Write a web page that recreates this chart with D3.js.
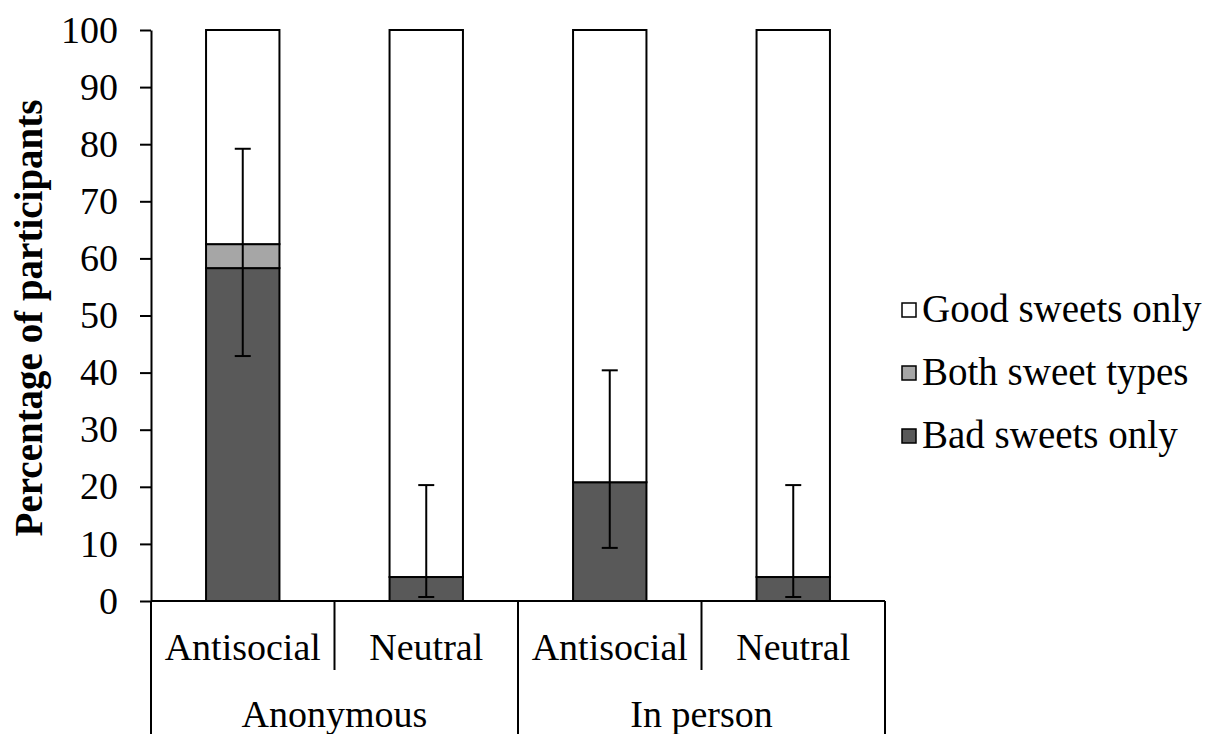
<!DOCTYPE html>
<html><head><meta charset="utf-8"><script src="https://cdn.jsdelivr.net/npm/d3@7"></script></head>
<body style="margin:0">
<svg id="s" width="1208" height="734" font-family="Liberation Serif, Tinos, Times New Roman, serif"></svg>
<script>
// ---- data ----
const conditions = ["Antisocial", "Neutral", "Antisocial", "Neutral"];
const groups = ["Anonymous", "In person"];
const badOnly = [58.3, 4.2, 20.8, 4.2];
const bothTypes = [4.2, 0, 0, 0];
const goodOnly = [37.5, 95.8, 79.2, 95.8];
const errLow = [42.9, 0.7, 9.3, 0.7];
const errHigh = [79.2, 20.3, 40.4, 20.3];
const yTicks = [0, 10, 20, 30, 40, 50, 60, 70, 80, 90, 100];
const seriesNames = ["Bad sweets only", "Both sweet types", "Good sweets only"];
const legendOrder = ["Good sweets only", "Both sweet types", "Bad sweets only"];
const seriesColors = { "Bad sweets only": "#595959", "Both sweet types": "#a6a6a6", "Good sweets only": "#ffffff" };

(function () {
const svg = d3.select("#s");
const mLeft = 151, mRight = 885, mTop = 30, mBottom = 601;
const FS = 38;
const FF = "Liberation Serif";

const rows = conditions.map((c, i) => ({
  idx: i,
  "Bad sweets only": badOnly[i],
  "Both sweet types": bothTypes[i],
  "Good sweets only": goodOnly[i]
}));

const x = d3.scaleBand().domain(d3.range(conditions.length)).range([mLeft, mRight])
  .paddingInner(0.6).paddingOuter(0.3);
const y = d3.scaleLinear().domain([0, 100]).range([mBottom, mTop]);

const stack = d3.stack().keys(seriesNames)(rows);

// bars
svg.append("g").selectAll("g").data(stack).join("g")
  .attr("fill", d => seriesColors[d.key])
  .selectAll("rect").data(d => d.filter(s => s[1] - s[0] > 0)).join("rect")
  .attr("x", d => x(d.data.idx))
  .attr("width", x.bandwidth())
  .attr("y", d => y(d[1]))
  .attr("height", d => y(d[0]) - y(d[1]))
  .attr("stroke", "#000")
  .attr("stroke-width", 2);

// error bars
const eb = svg.append("g").attr("stroke", "#000").attr("stroke-width", 2);
const cap = 8;
conditions.forEach((c, i) => {
  const cx = x(i) + x.bandwidth() / 2;
  eb.append("line").attr("x1", cx).attr("x2", cx).attr("y1", y(errLow[i])).attr("y2", y(errHigh[i]));
  eb.append("line").attr("x1", cx - cap).attr("x2", cx + cap).attr("y1", y(errLow[i])).attr("y2", y(errLow[i]));
  eb.append("line").attr("x1", cx - cap).attr("x2", cx + cap).attr("y1", y(errHigh[i])).attr("y2", y(errHigh[i]));
});

// y axis
const yAxis = d3.axisLeft(y).tickValues(yTicks).tickSize(11).tickPadding(22).tickSizeOuter(0);
const gy = svg.append("g").attr("transform", `translate(${mLeft},0)`).call(yAxis);
gy.attr("font-family", null).attr("font-size", null);
gy.select(".domain").attr("stroke", "#000").attr("stroke-width", 2);
gy.selectAll(".tick line").attr("stroke", "#000").attr("stroke-width", 2);
gy.selectAll(".tick text").style("font-family", FF).style("font-size", FS + "px").attr("fill", "#000");

// x axis line
svg.append("line").attr("x1", mLeft).attr("x2", mRight).attr("y1", mBottom).attr("y2", mBottom)
  .attr("stroke", "#000").attr("stroke-width", 2);

// category dividers
const step = x.step();
const bounds = d3.range(conditions.length + 1).map(i => mLeft + i * step);
bounds.forEach((bx, i) => {
  const isLong = (i % 2 === 0);
  svg.append("line").attr("x1", bx).attr("x2", bx).attr("y1", mBottom).attr("y2", isLong ? 734 : 670)
    .attr("stroke", "#000").attr("stroke-width", 2);
});

// condition labels
conditions.forEach((d, i) => {
  svg.append("text")
    .attr("x", x(i) + x.bandwidth() / 2)
    .attr("y", 660)
    .attr("text-anchor", "middle")
    .style("font-family", FF)
    .style("font-size", FS + "px")
    .text(d);
});

// group labels
groups.forEach((d, i) => {
  svg.append("text")
    .attr("x", mLeft + step * (2 * i + 1))
    .attr("y", 727)
    .attr("text-anchor", "middle")
    .style("font-family", FF)
    .style("font-size", FS + "px")
    .text(d);
});

// y title
svg.append("text")
  .attr("transform", "translate(42,318) rotate(-90)")
  .attr("text-anchor", "middle")
  .style("font-family", FF)
  .style("font-size", "39px")
  .style("font-weight", "bold")
  .text("Percentage of participants");

// legend
legendOrder.forEach((name, i) => {
  const cy = 310 + i * 63;
  svg.append("rect").attr("x", 902).attr("y", cy - 7).attr("width", 14).attr("height", 14)
    .attr("fill", seriesColors[name]).attr("stroke", "#000").attr("stroke-width", 1.5);
  svg.append("text").attr("x", 922).attr("y", cy + 12)
    .style("font-family", FF).style("font-size", "39px").text(name);
});
})();
</script>
</body>
</html>
